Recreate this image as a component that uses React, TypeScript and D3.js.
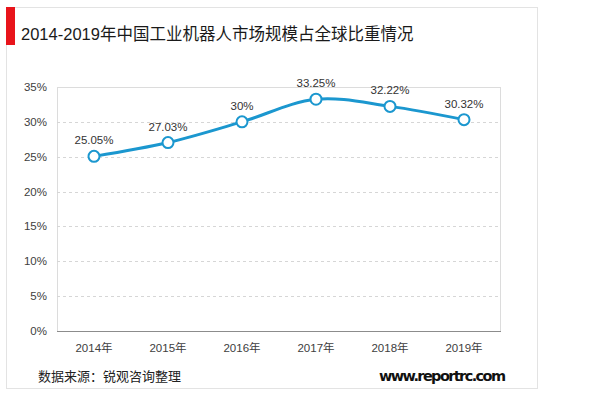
import * as d3 from 'd3'

const years = ['2014年', '2015年', '2016年', '2017年', '2018年', '2019年']
const shares = [25.05, 27.03, 30, 33.25, 32.22, 30.32]
const shareLabels = ['25.05%', '27.03%', '30%', '33.25%', '32.22%', '30.32%']
const yTicks = [0, 5, 10, 15, 20, 25, 30, 35]

const FONT = '"Liberation Sans", Arial, "Noto Sans CJK SC", sans-serif'
const BLUE = '#1b97cf'

export default function App() {
  const width = 600
  const height = 395
  const plot = { left: 57, right: 501, top: 87, bottom: 331 }

  const x = d3.scaleBand<string>().domain(years).range([plot.left, plot.right])
  const y = d3.scaleLinear().domain([0, 35]).range([plot.bottom, plot.top])
  const cx = (d: string) => (x(d) ?? 0) + x.bandwidth() / 2

  const line = d3.line<number>()
    .x((_, i) => cx(years[i]))
    .y(d => y(d))
    .curve(d3.curveCatmullRom.alpha(0.5))

  return (
    <div style={{ position: 'absolute', left: 0, top: 0 }}>
      <svg width={width} height={height} style={{ display: 'block', fontFamily: FONT }}>
        <rect width={width} height={height} fill="#fff" />
        {/* card */}
        <rect x={6.5} y={7.5} width={531} height={381} fill="#fff" stroke="#e3e3e3" />
        <rect x={6} y={7} width={9} height={38} fill="#e8141b" />
        <text x={21} y={40} fontSize={16.5} fill="#1a1a1a">2014-2019年中国工业机器人市场规模占全球比重情况</text>

        {/* plot frame + grid */}
        <rect x={plot.left + 0.5} y={plot.top + 0.5} width={plot.right - plot.left - 1} height={plot.bottom - plot.top} fill="none" stroke="#dcdcdc" />
        {yTicks.filter(t => t > 0 && t < 35).map(t => (
          <line key={t} x1={plot.left} x2={plot.right} y1={Math.round(y(t)) + 0.5} y2={Math.round(y(t)) + 0.5}
            stroke="#d6d6d6" strokeDasharray="3,3" />
        ))}
        <line x1={plot.left} x2={plot.right} y1={plot.bottom + 0.5} y2={plot.bottom + 0.5} stroke="#8c8c8c" strokeWidth={1.2} />

        {yTicks.map(t => (
          <text key={t} x={47} y={y(t)} dy="0.35em" textAnchor="end" fontSize={11.5} fill="#404040">{t}%</text>
        ))}
        {years.map(yr => (
          <text key={yr} x={cx(yr)} y={348} dy="0.35em" textAnchor="middle" fontSize={11.5} fill="#404040">{yr}</text>
        ))}

        <path d={line(shares) ?? ''} fill="none" stroke={BLUE} strokeWidth={3} strokeLinecap="round" />
        {shares.map((v, i) => (
          <g key={years[i]}>
            <circle cx={cx(years[i])} cy={y(v)} r={5.5} fill="#fff" stroke={BLUE} strokeWidth={2} />
            <text x={cx(years[i])} y={y(v) - 12} textAnchor="middle" fontSize={11.5} fill="#333">{shareLabels[i]}</text>
          </g>
        ))}

        <text x={38} y={381} fontSize={13} fill="#222">数据来源：锐观咨询整理</text>
        <text x={506} y={381} textAnchor="end" fontSize={14.5} fontWeight="bold" fill="#111"
          fontFamily='"DejaVu Sans", Verdana, sans-serif' textLength={127}>www.reportrc.com</text>
      </svg>
    </div>
  )
}
